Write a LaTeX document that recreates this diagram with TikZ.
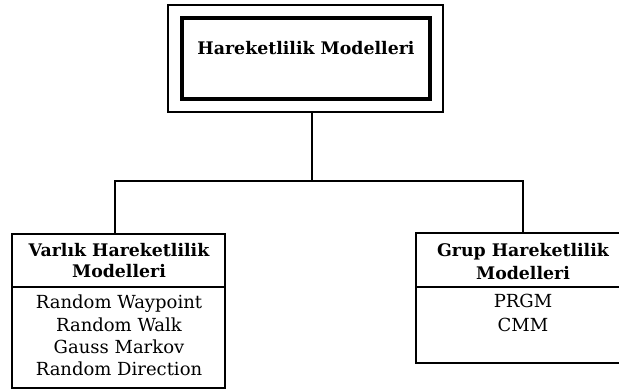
\documentclass[tikz,border=0pt]{standalone}
\usepackage{fontspec}
\setmainfont{DejaVu Serif}
\begin{document}
\begin{tikzpicture}[x=0.75pt,y=-0.75pt,
  frame/.style={draw=black, inner sep=0pt, outer sep=0pt, fill=none},
  txt/.style={inner sep=0pt, anchor=base, font=\fontsize{13.5}{16}\selectfont},
  head/.style={inner sep=0pt, anchor=base, font=\fontsize{13}{16}\selectfont\bfseries},
  conn/.style={draw=black, line width=2.2pt}]
\useasboundingbox (0,0) rectangle (619,392);
\clip (0,0) rectangle (619,392);
% top double box
\node[frame, line width=2.2pt, minimum width=206.25pt, minimum height=80.25pt] (topout) at (305.5,58.5) {};
\node[frame, line width=2.7pt, minimum width=186pt, minimum height=60.75pt] (topin) at (306,58.5) {};
\node[head] (title) at (306,55) {Hareketlilik Modelleri};
% left box
\node[frame, line width=2.1pt, minimum width=159.75pt, minimum height=115.5pt] (left) at (118.5,311) {};
\draw[line width=1.7pt] (left.west |- 0,287) coordinate (ldl) -- (left.east |- ldl);
\node[head] (l1) at (119,257) {Varlık Hareketlilik};
\node[head] (l2) at (119,278) {Modelleri};
\node[txt] (l3) at (119,309) {Random Waypoint};
\node[txt] (l4) at (119,332) {Random Walk};
\node[txt] (l5) at (119,354) {Gauss Markov};
\node[txt] (l6) at (119,376) {Random Direction};
% right box
\node[frame, line width=2.1pt, minimum width=160.5pt, minimum height=97.5pt] (right) at (523,298) {};
\draw[line width=1.7pt] (right.west |- 0,287) coordinate (rdl) -- (right.east |- rdl);
\node[head] (r1) at (523,257) {Grup Hareketlilik};
\node[head] (r2) at (523,280) {Modelleri};
\node[txt] (r3) at (523,308) {PRGM};
\node[txt] (r4) at (523,332) {CMM};
% connectors
\coordinate (j) at (312,181);
\draw[conn] (topout.south -| j) -- (j);
\draw[conn, line cap=rect] ([xshift=-3.5*0.75pt]left.north) |- (j) -| (right.north);
\end{tikzpicture}
\end{document}
